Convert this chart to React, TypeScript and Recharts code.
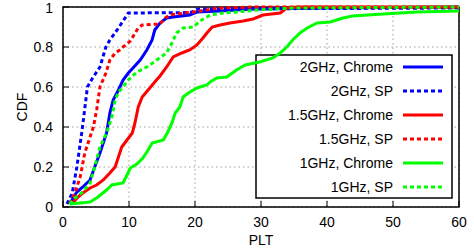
import React from 'react';
import { LineChart, Line, XAxis, YAxis, CartesianGrid, ReferenceArea, Customized } from 'recharts';

// 2GHz, Chrome
const ghz2ChromeX = [1.0, 2.1, 3.0, 4.1, 4.8, 5.6, 6.6, 7.1, 7.6, 8.4, 9.1, 9.9, 10.6, 11.7, 12.7, 13.5, 13.9, 14.7, 15.7, 16.7, 19.2, 20.3, 23.8, 28.8, 40, 60];
const ghz2ChromeY = [0.015, 0.075, 0.1, 0.135, 0.2, 0.27, 0.37, 0.47, 0.535, 0.585, 0.635, 0.67, 0.695, 0.735, 0.785, 0.835, 0.885, 0.92, 0.945, 0.95, 0.96, 0.975, 0.98, 0.99, 0.995, 1.0];
// 2GHz, SP
const ghz2SpX = [0.6, 1.4, 2.1, 2.9, 3.7, 4.4, 5.6, 6.5, 7.1, 8.2, 9.2, 9.9, 19.3, 20.5, 60];
const ghz2SpY = [0.015, 0.07, 0.2, 0.385, 0.6, 0.64, 0.7, 0.8, 0.835, 0.885, 0.935, 0.97, 0.972, 0.99, 0.995];
// 1.5GHz, Chrome
const ghz15ChromeX = [1.4, 2.1, 3.0, 4.1, 5.1, 6.1, 7.1, 7.9, 8.4, 8.9, 9.7, 10.5, 10.9, 11.4, 12.0, 12.9, 13.9, 14.7, 15.7, 16.7, 18.0, 19.2, 20.3, 21.2, 21.8, 22.6, 23.8, 25.3, 27.3, 28.8, 30.3, 32.9, 33.9, 35.5, 60];
const ghz15ChromeY = [0.015, 0.045, 0.07, 0.095, 0.11, 0.135, 0.17, 0.2, 0.25, 0.3, 0.335, 0.37, 0.42, 0.5, 0.55, 0.585, 0.625, 0.655, 0.7, 0.75, 0.77, 0.785, 0.81, 0.845, 0.87, 0.9, 0.91, 0.92, 0.93, 0.94, 0.96, 0.97, 0.995, 1.0, 1.0];
// 1.5GHz, SP
const ghz15SpX = [1.0, 1.8, 2.6, 3.3, 3.8, 4.6, 5.1, 5.6, 6.5, 7.1, 7.9, 8.6, 9.1, 10.2, 11.4, 12.0, 14.7, 15.5, 16.2, 19.7, 23.8, 28.8, 60];
const ghz15SpY = [0.015, 0.07, 0.15, 0.27, 0.32, 0.4, 0.485, 0.6, 0.67, 0.735, 0.77, 0.785, 0.8, 0.83, 0.895, 0.91, 0.915, 0.945, 0.96, 0.975, 0.995, 1.0, 1.0];
// 1GHz, Chrome
const ghz1ChromeX = [1.0, 2.6, 4.1, 5.3, 6.6, 7.4, 9.1, 9.7, 10.2, 11.2, 12.1, 12.9, 13.5, 15.2, 15.8, 16.5, 17.0, 17.7, 18.2, 19.0, 20.3, 21.8, 22.3, 23.3, 24.8, 26.3, 27.6, 29.8, 31.8, 32.9, 33.9, 34.8, 35.9, 37.0, 38.5, 40.5, 42.4, 43.9, 48.5, 53.6, 60];
const ghz1ChromeY = [0.015, 0.02, 0.025, 0.05, 0.085, 0.11, 0.12, 0.16, 0.195, 0.215, 0.245, 0.285, 0.32, 0.335, 0.37, 0.42, 0.47, 0.5, 0.55, 0.57, 0.595, 0.61, 0.625, 0.645, 0.65, 0.685, 0.71, 0.725, 0.745, 0.77, 0.8, 0.835, 0.87, 0.895, 0.92, 0.925, 0.945, 0.955, 0.965, 0.975, 0.98];
// 1GHz, SP
const ghz1SpX = [1.0, 1.8, 3.0, 4.1, 4.8, 5.6, 6.6, 7.4, 7.9, 8.4, 9.1, 9.9, 11.2, 12.7, 14.2, 15.7, 16.5, 17.2, 18.2, 19.7, 21.0, 22.3, 24.3, 26.3, 29.4, 35, 60];
const ghz1SpY = [0.015, 0.045, 0.075, 0.12, 0.2, 0.3, 0.37, 0.45, 0.535, 0.575, 0.6, 0.635, 0.675, 0.7, 0.735, 0.77, 0.82, 0.87, 0.895, 0.9, 0.935, 0.96, 0.97, 0.975, 0.985, 0.995, 1.0];

const xTicks = [0, 10, 20, 30, 40, 50, 60];
const yTicks = [0, 0.2, 0.4, 0.6, 0.8, 1];
const seriesNames = ['2GHz, Chrome', '2GHz, SP', '1.5GHz, Chrome', '1.5GHz, SP', '1GHz, Chrome', '1GHz, SP'];

const zip = (xs: number[], ys: number[]) => xs.map((x, i) => ({ x, y: ys[i] }));

const series = [
  { name: seriesNames[0], data: zip(ghz2ChromeX, ghz2ChromeY), color: '#0000ff', dash: undefined },
  { name: seriesNames[1], data: zip(ghz2SpX, ghz2SpY), color: '#0000ff', dash: '4 3' },
  { name: seriesNames[2], data: zip(ghz15ChromeX, ghz15ChromeY), color: '#ff0000', dash: undefined },
  { name: seriesNames[3], data: zip(ghz15SpX, ghz15SpY), color: '#ff0000', dash: '4 3' },
  { name: seriesNames[4], data: zip(ghz1ChromeX, ghz1ChromeY), color: '#00ff00', dash: undefined },
  { name: seriesNames[5], data: zip(ghz1SpX, ghz1SpY), color: '#00ff00', dash: '4 3' },
];

const FONT = '"Liberation Sans", Arial, Helvetica, sans-serif';

const LegendBox = () => {
  const left = 256, top = 55, w = 196, h = 143;
  return (
    <g>
      <rect x={left} y={top} width={w} height={h} fill="#fff" stroke="#000" strokeWidth={1.5} />
      {series.map((s, i) => {
        const cy = 67 + i * 24;
        return (
          <g key={s.name}>
            <text x={393} y={cy} textAnchor="end" dominantBaseline="central" fontFamily={FONT} fontSize={14} fill="#000">{s.name}</text>
            <line x1={403} x2={443} y1={cy} y2={cy} stroke={s.color} strokeWidth={3} strokeDasharray={s.dash} />
          </g>
        );
      })}
    </g>
  );
};

const YLabel = (props: any) => {
  const vb = props.viewBox || { x: 0, y: 7, width: 63, height: 200 };
  const cx = vb.x + 22;
  const cy = vb.y + vb.height / 2;
  return (
    <text x={cx} y={cy} transform={`rotate(-90, ${cx}, ${cy})`} textAnchor="middle" dominantBaseline="central" fontFamily={FONT} fontSize={14} fill="#000">CDF</text>
  );
};

export default function App() {
  return (
    <div style={{ position: 'absolute', left: 0, top: 0, width: 474, height: 248, background: '#fff' }}>
      <LineChart width={474} height={248} margin={{ top: 7, right: 15, bottom: 0, left: 0 }} style={{ fontFamily: FONT }}>
        <CartesianGrid stroke="#a0a0a0" strokeDasharray="1.5 3" strokeWidth={1} />
        <XAxis
          dataKey="x" type="number" domain={[0, 60]} ticks={xTicks} height={41}
          axisLine={false} tickSize={-6} tickMargin={16}
          tickLine={{ stroke: '#000', strokeWidth: 1 }}
          tick={{ fill: '#000', fontSize: 14, fontFamily: FONT }}
          allowDuplicatedCategory={false}
          label={{ value: 'PLT', position: 'insideBottom', offset: 3, fill: '#000', fontSize: 14, fontFamily: FONT }}
        />
        <XAxis
          xAxisId="top" orientation="top" dataKey="x" type="number" domain={[0, 60]} ticks={xTicks} height={0}
          axisLine={false} tickSize={-6} tick={false} tickLine={{ stroke: '#000', strokeWidth: 1 }}
        />
        <YAxis
          type="number" domain={[0, 1]} ticks={yTicks} width={63}
          axisLine={false} tickSize={-6} tickMargin={16}
          tickLine={{ stroke: '#000', strokeWidth: 1 }}
          tick={{ fill: '#000', fontSize: 14, fontFamily: FONT }}
          label={<YLabel />}
        />
        <YAxis
          yAxisId="right" orientation="right" type="number" domain={[0, 1]} ticks={yTicks} width={0}
          axisLine={false} tickSize={-6} tick={false} tickLine={{ stroke: '#000', strokeWidth: 1 }}
        />
        <Customized component={LegendBox} />
        {series.map((s) => (
          <Line
            key={s.name}
            data={s.data}
            dataKey="y"
            name={s.name}
            type="linear"
            stroke={s.color}
            strokeWidth={3}
            strokeDasharray={s.dash}
            dot={false}
            activeDot={false}
            isAnimationActive={false}
          />
        ))}
        <ReferenceArea x1={0} x2={60} y1={0} y2={1} fill="none" stroke="#000" strokeWidth={1.5} ifOverflow="visible" />
      </LineChart>
    </div>
  );
}
